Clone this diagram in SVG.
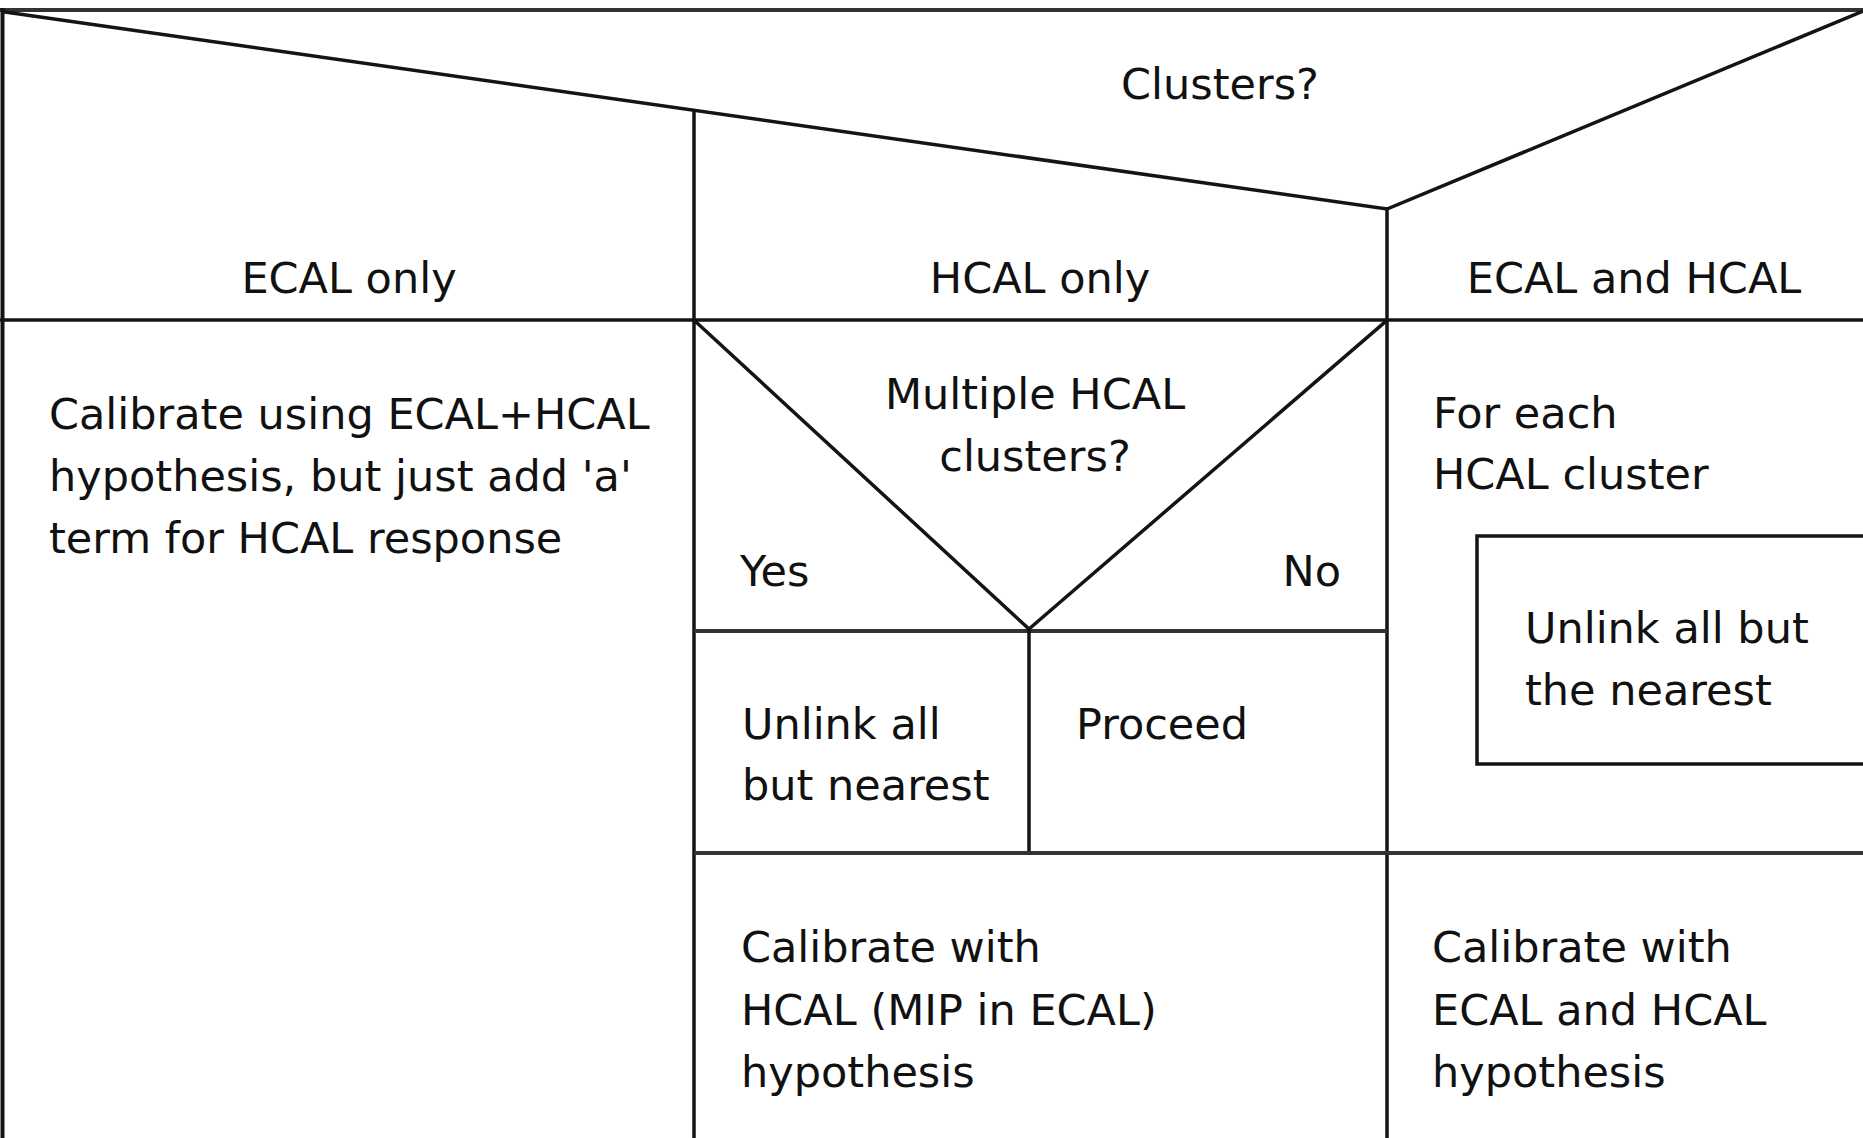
<svg xmlns="http://www.w3.org/2000/svg" width="1863" height="1138" viewBox="0 0 1863 1138">
  <style>
    .ln { stroke: #141414; stroke-width: 3.5; fill: none; stroke-linecap: square; }
    .ln-g { stroke: #333333; stroke-width: 4; fill: none; }
    .t { font-family: "DejaVu Sans", "Liberation Sans", sans-serif; font-size: 43px; fill: #111111; }
    .c { text-anchor: middle; }
  </style>
  <rect width="1863" height="1138" fill="#ffffff"/>

  <!-- structure lines of the chart -->
  <g id="connectors">
    <line class="ln-g" x1="0" y1="10" x2="1863" y2="10"/>
    <line class="ln" x1="2.5" y1="10" x2="2.5" y2="1138" style="stroke-width:4"/>
    <polyline class="ln" points="5,12 1387,209 1861,12"/>
    <line class="ln" x1="694" y1="112" x2="694" y2="1138"/>
    <line class="ln" x1="1387" y1="209" x2="1387" y2="1138"/>
    <line class="ln" x1="0" y1="320" x2="1863" y2="320"/>
    <line class="ln-g" x1="694" y1="631" x2="1387" y2="631"/>
    <line class="ln" x1="1029" y1="631" x2="1029" y2="853"/>
    <line class="ln-g" x1="694" y1="853" x2="1863" y2="853"/>
  </g>

  <!-- top decision -->
  <g id="clusters-decision">
    <text class="t c" x="1220" y="99">Clusters?</text>
  </g>
  <g id="ecal-only-branch">
    <text class="t c" x="349" y="293">ECAL only</text>
  </g>
  <g id="hcal-only-branch">
    <text class="t c" x="1040" y="293">HCAL only</text>
  </g>
  <g id="ecal-hcal-branch">
    <text class="t c" x="1634" y="293">ECAL and HCAL</text>
  </g>

  <!-- ECAL only action -->
  <g id="ecal-only-action">
    <text class="t" x="49" y="429">Calibrate using ECAL+HCAL</text>
    <text class="t" x="49" y="491">hypothesis, but just add 'a'</text>
    <text class="t" x="49" y="553">term for HCAL response</text>
  </g>

  <!-- HCAL only: nested decision -->
  <g id="multiple-hcal-decision">
    <polyline class="ln" points="696,322 1029,629 1385,322"/>
    <text class="t c" x="1035" y="409">Multiple HCAL</text>
    <text class="t c" x="1035" y="471">clusters?</text>
    <text class="t" x="740" y="586">Yes</text>
    <text class="t" x="1341" y="586" text-anchor="end">No</text>
  </g>
  <g id="unlink-nearest">
    <text class="t" x="742" y="739">Unlink all</text>
    <text class="t" x="742" y="800">but nearest</text>
  </g>
  <g id="proceed">
    <text class="t" x="1076" y="739">Proceed</text>
  </g>
  <g id="calibrate-hcal">
    <text class="t" x="741" y="962">Calibrate with</text>
    <text class="t" x="741" y="1025">HCAL (MIP in ECAL)</text>
    <text class="t" x="741" y="1087">hypothesis</text>
  </g>

  <!-- ECAL and HCAL: loop -->
  <g id="for-each-loop">
    <text class="t" x="1433" y="428">For each</text>
    <text class="t" x="1433" y="489">HCAL cluster</text>
  </g>
  <g id="unlink-the-nearest">
    <rect class="ln" x="1477" y="536" width="450" height="228"/>
    <text class="t" x="1525" y="643">Unlink all but</text>
    <text class="t" x="1525" y="705">the nearest</text>
  </g>
  <g id="calibrate-ecal-hcal">
    <text class="t" x="1432" y="962">Calibrate with</text>
    <text class="t" x="1432" y="1025">ECAL and HCAL</text>
    <text class="t" x="1432" y="1087">hypothesis</text>
  </g>
</svg>
